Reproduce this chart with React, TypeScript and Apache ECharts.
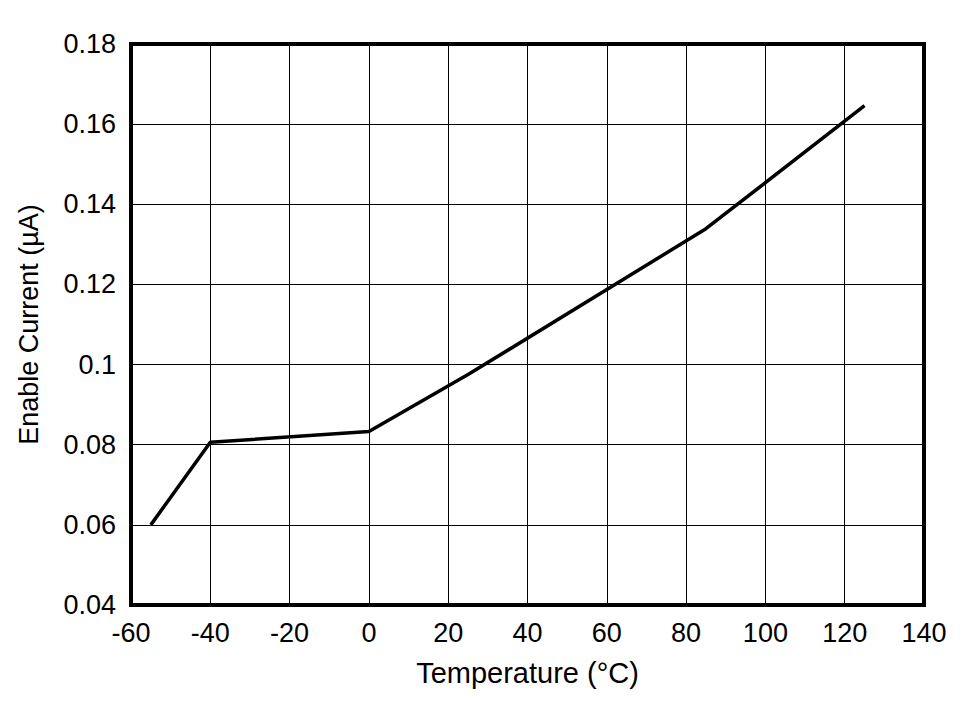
import { useEffect, useRef } from 'react';
import * as echarts from 'echarts';

// temperature (°C) and enable current (µA)
const temperatures = [-55, -40, 0, 25, 85, 125];
const currents = [0.06, 0.0806, 0.0833, 0.0975, 0.1339, 0.1646];

const xTicks = { min: -60, max: 140, interval: 20 };
const yTicks = { min: 0.04, max: 0.18, interval: 0.02 };

const FONT = '"Liberation Sans", Arial, sans-serif';

export default function App() {
  const chartRef = useRef<HTMLDivElement>(null);

  useEffect(() => {
    if (!chartRef.current) return;
    const chart = echarts.init(chartRef.current, undefined, { renderer: 'svg' });

    chart.setOption({
      animation: false,
      backgroundColor: '#fff',
      grid: {
        left: 131,
        right: 48,
        top: 44,
        bottom: 96,
        show: true,
        borderColor: '#000',
        borderWidth: 4,
        containLabel: false,
        outerBoundsMode: 'none',
      },
      xAxis: {
        type: 'value',
        ...xTicks,
        name: 'Temperature (°C)',
        nameLocation: 'middle',
        nameGap: 53,
        nameTextStyle: { fontFamily: FONT, fontSize: 29, color: '#000' },
        axisLine: { show: false },
        axisTick: { show: false },
        axisLabel: { fontFamily: FONT, fontSize: 27, color: '#000', margin: 14 },
        splitLine: { show: true, lineStyle: { color: '#000', width: 1 } },
      },
      yAxis: {
        type: 'value',
        ...yTicks,
        name: 'Enable Current (µA)',
        nameLocation: 'middle',
        nameGap: 89,
        nameTextStyle: { fontFamily: FONT, fontSize: 27, color: '#000' },
        axisLine: { show: false },
        axisTick: { show: false },
        axisLabel: {
          fontFamily: FONT,
          fontSize: 27,
          color: '#000',
          margin: 15,
          formatter: (v: number) => String(Number(v.toFixed(2))),
        },
        splitLine: { show: true, lineStyle: { color: '#000', width: 1 } },
      },
      series: [
        {
          type: 'line',
          data: temperatures.map((t, i) => [t, currents[i]]),
          showSymbol: false,
          lineStyle: { color: '#000', width: 3.5 },
        },
      ],
    });

    return () => {
      chart.dispose();
    };
  }, []);

  return (
    <div
      ref={chartRef}
      style={{ position: 'absolute', left: 0, top: 0, width: 972, height: 701 }}
    />
  );
}
